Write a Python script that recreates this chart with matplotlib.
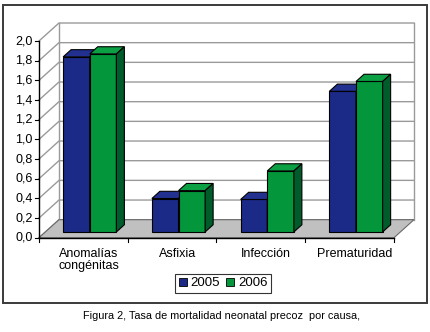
import matplotlib
matplotlib.use("Agg")
import matplotlib.pyplot as plt
from matplotlib.patches import Polygon, Rectangle, Patch

categories = ["Anomalías\ncongénitas", "Asfixia", "Infección", "Prematuridad"]
series_names = ["2005", "2006"]
values_2005 = [1.78, 0.34, 0.33, 1.43]
values_2006 = [1.81, 0.42, 0.62, 1.53]
y_ticks = [0.0, 0.2, 0.4, 0.6, 0.8, 1.0, 1.2, 1.4, 1.6, 1.8, 2.0]
caption = "Figura 2, Tasa de mortalidad neonatal precoz  por causa,"

plt.rcParams["font.family"] = ["Liberation Sans", "DejaVu Sans"]

# oblique "3d" offsets in data units (full depth of the chart)
DX = 0.225
DY = 0.183
D0, D1 = 0.32, 0.72   # bar depth range
BW = 0.30             # bar width in category units
YMAX = 2.0

face = {"2005": ("#1c2a87", "#22318f", "#101a5c"),
        "2006": ("#03963b", "#0aa043", "#005c2a")}


def proj(x, v, d):
    return (x + d * DX, v + d * DY)


fig = plt.figure(figsize=(4.3, 3.32), dpi=100)
ax = fig.add_axes([0, 0, 1, 1])
ax.set_xlim(-0.9394, 3.9056)
ax.set_ylim(-0.9588, 2.4169)
ax.axis("off")

x0, x1 = -0.5, len(categories) - 0.5
grid_c = "#9a9a9a"

# back wall and left wall gridlines
for v in y_ticks:
    a = proj(x0, v, 0)
    b = proj(x0, v, 1)
    c = proj(x1, v, 1)
    ax.plot([a[0], b[0], c[0]], [a[1], b[1], c[1]], color=grid_c, lw=1, zorder=1)
for xx in (x0, x1):
    p = proj(xx, 0, 1)
    q = proj(xx, YMAX, 1)
    ax.plot([p[0], q[0]], [p[1], q[1]], color=grid_c, lw=1, zorder=1)

# floor
floor = [proj(x0, 0, 0), proj(x1, 0, 0), proj(x1, 0, 1), proj(x0, 0, 1)]
ax.add_patch(Polygon(floor, closed=True, facecolor="#c0c0c0",
                     edgecolor="#6a6a6a", lw=0.8, zorder=2))

# front axes
ax.plot([x0, x0], [0, YMAX], color="black", lw=1, zorder=3)
ax.plot([x0, x1], [0, 0], color="black", lw=1, zorder=3)
for v in y_ticks:
    ax.plot([x0 - 0.045, x0], [v, v], color="black", lw=0.8, zorder=3)
    ax.text(x0 - 0.07, v, f"{v:.1f}".replace(".", ","), ha="right",
            va="center", fontsize=9, zorder=3)
for i in range(len(categories) + 1):
    ax.plot([x0 + i, x0 + i], [0, -0.04], color="black", lw=0.8, zorder=3)
for i, cat in enumerate(categories):
    ax.text(i + 0.06, -0.1, cat, ha="center", va="top", fontsize=9,
            linespacing=1.1, zorder=3)

# bars
dd = D1 - D0
z = 4
for i in range(len(categories)):
    for k, (name, vals) in enumerate(zip(series_names, [values_2005, values_2006])):
        front, top, side = face[name]
        xl, base = proj(i - BW + k * BW, 0, D0)
        xr = xl + BW
        v = vals[i] + base
        ax.bar(xl, vals[i], width=BW, bottom=base, align="edge", color=front,
               edgecolor="black", lw=0.8, zorder=z)
        ax.add_patch(Polygon([(xl, v), (xr, v), (xr + dd * DX, v + dd * DY),
                              (xl + dd * DX, v + dd * DY)], closed=True,
                             facecolor=top, edgecolor="black", lw=0.8, zorder=z))
        ax.add_patch(Polygon([(xr, base), (xr, v), (xr + dd * DX, v + dd * DY),
                              (xr + dd * DX, base + dd * DY)], closed=True,
                             facecolor=side, edgecolor="black", lw=0.8, zorder=z))
        z += 1

# outer frame
fig.patches.append(Rectangle((3 / 430, 1 - 303 / 332), 424 / 430, 298 / 332,
                             transform=fig.transFigure, fill=False,
                             edgecolor="#3a3a3a", lw=1.4))

handles = [Patch(facecolor=face[n][0], edgecolor="black", lw=0.6) for n in series_names]
leg = fig.legend(handles, series_names, loc="center", ncol=2,
                 bbox_to_anchor=(223 / 430, 1 - 283.5 / 332), fontsize=9.5,
                 frameon=True, fancybox=False, handlelength=0.6, handleheight=0.6,
                 handletextpad=0.3, columnspacing=0.45, borderpad=0.3,
                 borderaxespad=0)
leg.get_frame().set_edgecolor("black")
leg.get_frame().set_linewidth(0.8)

fig.text(222 / 430, 1 - 316 / 332, caption, ha="center", va="center",
         fontsize=7.8)

fig.savefig("out.png", dpi=100)
